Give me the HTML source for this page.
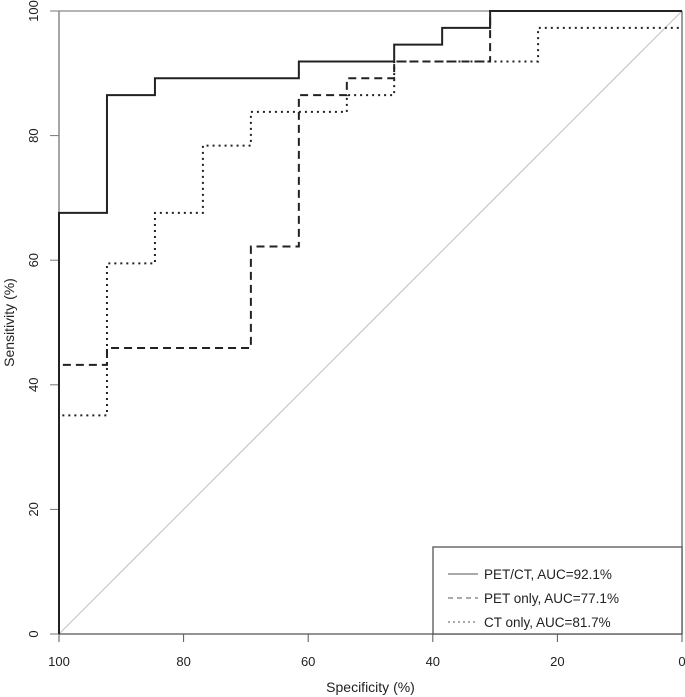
<!DOCTYPE html>
<html><head><meta charset="utf-8"><style>
body{margin:0;background:#fff}
svg{display:block;font-family:"Liberation Sans",sans-serif}
</style></head><body>
<svg id="c" width="685" height="697"></svg>
<script>
const xTicks=[100,80,60,40,20,0];
const yTicks=[0,20,40,60,80,100];
const petctSpec=[100,100,92.3,92.3,84.6,84.6,61.5,61.5,46.2,46.2,38.5,38.5,30.8,30.8,0];
const petctSens=[0,67.6,67.6,86.5,86.5,89.2,89.2,91.9,91.9,94.6,94.6,97.3,97.3,100,100];
const petSpec=[100,100,92.3,92.3,69.2,69.2,61.5,61.5,53.8,53.8,46.2,46.2,30.8,30.8,0];
const petSens=[0,43.2,43.2,45.9,45.9,62.2,62.2,86.5,86.5,89.2,89.2,91.9,91.9,100,100];
const ctSpec=[100,100,92.3,92.3,84.6,84.6,76.9,76.9,69.2,69.2,53.8,53.8,46.2,46.2,23.1,23.1,0];
const ctSens=[0,35.1,35.1,59.5,59.5,67.6,67.6,78.4,78.4,83.8,83.8,86.5,86.5,91.9,91.9,97.3,97.3];
const legendLabels=["PET/CT, AUC=92.1%","PET only, AUC=77.1%","CT only, AUC=81.7%"];
const NS="http://www.w3.org/2000/svg";
const svg=document.getElementById('c');
const X=v=>59+(100-v)*6.23;
const Y=v=>634-v*6.23;
function mk(t,a,p){const e=document.createElementNS(NS,t);for(const k in a)e.setAttribute(k,a[k]);(p||svg).appendChild(e);return e;}
let e;
e=mk('line',{x1:X(100),y1:Y(0),x2:X(0),y2:Y(100),stroke:'#c8c8c8','stroke-width':1.2});


e=mk('line',{x1:X(100),y1:Y(0),x2:X(0),y2:Y(0),stroke:'#555','stroke-width':1.3});


e=mk('line',{x1:X(100),y1:Y(0),x2:X(100),y2:Y(100),stroke:'#777','stroke-width':1.3});


e=mk('line',{x1:X(100),y1:Y(100),x2:X(0),y2:Y(100),stroke:'#888','stroke-width':1.2});


e=mk('line',{x1:X(0),y1:Y(0),x2:X(0),y2:Y(100),stroke:'#666','stroke-width':1.3});


xTicks.forEach(v=>{
 e=mk('line',{x1:X(v),y1:634,x2:X(v),y2:642,stroke:'#555'});
 
 
 e=mk('text',{x:X(v),y:666,'text-anchor':'middle','font-size':13,fill:'#222'});e.textContent=v;
 
 
});
yTicks.forEach(v=>{
 e=mk('line',{x1:50,y1:Y(v),x2:59,y2:Y(v),stroke:'#777'});
 
 
 e=mk('text',{x:0,y:0,'text-anchor':'middle','font-size':13,fill:'#222',transform:`translate(38,${Y(v)}) rotate(-90)`});e.textContent=v;
 
 
});
e=mk('text',{x:X(50),y:692,'text-anchor':'middle','font-size':14,fill:'#222'});e.textContent='Specificity (%)';


e=mk('text',{x:0,y:0,'text-anchor':'middle','font-size':14,fill:'#222',transform:`translate(14,${Y(50)}) rotate(-90)`});e.textContent='Sensitivity (%)';


function series(xs,ys,dash,name){
 const d=xs.map((x,i)=>(i?'L':'M')+X(x)+' '+Y(ys[i])).join(' ');
 const p=mk('path',{d:d,fill:'none',stroke:'#222','stroke-width':2,'stroke-dasharray':dash});
 
 
}
series(ctSpec,ctSens,'2 4','ct-only-curve');
series(petSpec,petSens,'8 5','pet-only-curve');
series(petctSpec,petctSens,'none','pet-ct-curve');
const lg=mk('g',{});


e=mk('rect',{x:433,y:547,width:249,height:87,fill:'#fff',stroke:'#555','stroke-width':1.3},lg);


const dashes=['none','5 4','2 3'];
legendLabels.forEach((t,i)=>{
 const y=579+i*24;
 e=mk('line',{x1:448,y1:y-5,x2:478,y2:y-5,stroke:'#777','stroke-width':1.3,'stroke-dasharray':dashes[i]},lg);
 
 
 e=mk('text',{x:484,y:y,'font-size':13.5,fill:'#222'},lg);e.textContent=t;
 
 
});
</script>
</body></html>
